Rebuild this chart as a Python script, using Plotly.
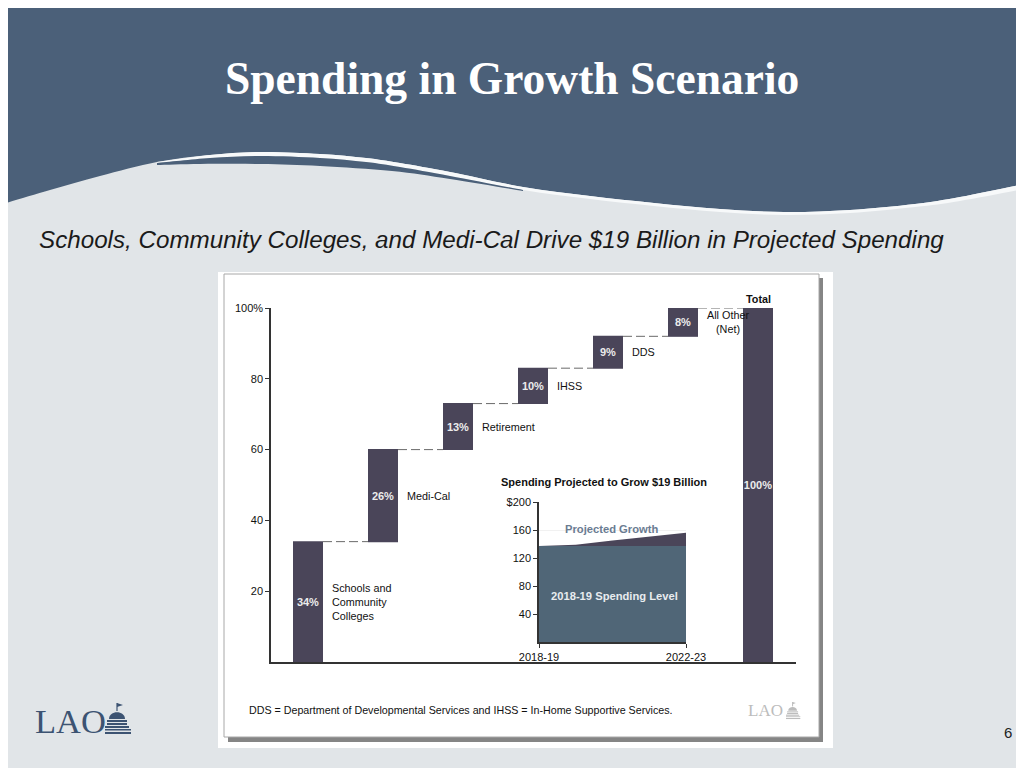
import plotly.graph_objects as go

W, H = 1024, 768
OX, OY = 8, 8  # page offset of the figure inside the browser window

# ---------------- data ----------------
categories = ["Schools and Community Colleges", "Medi-Cal", "Retirement", "IHSS", "DDS",
              "All Other (Net)", "Total"]
shares = [34, 26, 13, 10, 9, 8, 100]
measures = ["relative"] * 6 + ["total"]
share_labels = ["34%", "26%", "13%", "10%", "9%", "8%", "100%"]
category_labels = ["Schools and<br>Community<br>Colleges", "Medi-Cal", "Retirement", "IHSS", "DDS",
                   "All Other<br>(Net)"]
y_tickvals = [20, 40, 60, 80, 100]
y_ticktext = ["20", "40", "60", "80", "100%"]

years = ["2018-19", "2019-20", "2020-21", "2021-22", "2022-23"]
total_spending = [137, 139, 145, 150, 156]
base_level = [total_spending[0]] * len(years)
inset_tickvals = [40, 80, 120, 160, 200]
inset_ticktext = ["40", "80", "120", "160", "$200"]

BAR = "#4a4559"
BLUE = "#4b6079"
SLATE = "#506677"
BG = "#e1e5e8"
FONT = "Liberation Sans"


def fx(x):
    return (x - OX) / W


def fy(y):
    return 1 - (y - OY) / H


def px(x, y):
    return fx(x), fy(y)


def pp(x, y):
    a, b = px(x, y)
    return f"{a:.5f},{b:.5f}"


def spline(pts, cmd="M"):
    s = f"{cmd} {pp(*pts[0])}"
    n = len(pts)
    for i in range(n - 1):
        p0 = pts[i - 1] if i > 0 else pts[i]
        p1 = pts[i]
        p2 = pts[i + 1]
        p3 = pts[i + 2] if i + 2 < n else pts[i + 1]
        c1 = (p1[0] + (p2[0] - p0[0]) / 6, p1[1] + (p2[1] - p0[1]) / 6)
        c2 = (p2[0] - (p3[0] - p1[0]) / 6, p2[1] - (p3[1] - p1[1]) / 6)
        s += f" C {pp(*c1)} {pp(*c2)} {pp(*p2)}"
    return s


shapes = []

# full background (covers whole figure)
shapes.append(dict(type="rect", xref="paper", yref="paper", x0=-0.05, y0=-0.05, x1=1.05, y1=1.05,
                   fillcolor=BG, line=dict(width=0), layer="below"))

# header
white_top = [(1040, 180), (1024, 184), (960, 197), (915, 204), (850, 210), (784, 212), (720, 209),
             (654, 203), (590, 196), (523, 187), (450, 172), (400, 163), (366, 158), (320, 154),
             (261, 152), (210, 155), (157, 162)]
blue_path = f"M {pp(-10,-10)} L {pp(1040,-10)} " + spline(
    white_top + [(100, 176), (50, 190), (0, 205), (-10, 209)], "L") + " Z"
shapes.append(dict(type="path", xref="paper", yref="paper", path=blue_path,
                   fillcolor=BLUE, line=dict(width=0), layer="below"))
white_bottom = [(157, 163), (210, 158), (261, 156), (320, 158), (366, 162), (400, 167), (450, 176),
                (523, 190), (590, 199), (654, 206), (720, 212), (784, 215), (850, 213), (915, 207),
                (960, 201), (1024, 189), (1040, 185)]
band = spline(white_top[::-1][:-1][::-1][0:0] + white_top, "M") + " " + spline(white_bottom, "L") + " Z"
shapes.append(dict(type="path", xref="paper", yref="paper", path=band,
                   fillcolor="#f7f9fa", line=dict(width=0), layer="below"))
sliver_top = [(157, 163), (210, 158), (261, 156), (320, 158), (366, 162), (400, 167), (450, 176), (523, 190)]
sliver_bot = [(523, 191), (450, 179), (392, 171), (320, 166), (261, 164), (200, 164), (157, 165)]
sliver = spline(sliver_top, "M") + " " + spline(sliver_bot, "L") + " Z"
shapes.append(dict(type="path", xref="paper", yref="paper", path=sliver,
                   fillcolor=BLUE, line=dict(width=0), layer="below"))


def rect(x0, y0, x1, y1, fill, line=None, lw=0):
    a0, b0 = px(x0, y1)
    a1, b1 = px(x1, y0)
    shapes.append(dict(type="rect", xref="paper", yref="paper", x0=a0, y0=b0, x1=a1, y1=b1,
                       fillcolor=fill, line=dict(width=lw, color=line or fill), layer="below"))


# chart panel
rect(218, 272, 833, 748, "white")
rect(228, 278, 823, 742, "#858585")
rect(224, 274, 819, 737, "white", "#a8a8a8", 1)


def icon(x0, y0, s, color):
    def P(x, y):
        return pp(x0 + x * s, y0 + y * s)
    a, b = px(x0 + 12 * s, y0)
    c, d = px(x0 + 12 * s, y0 + 8 * s)
    shapes.append(dict(type="line", xref="paper", yref="paper", x0=a, y0=b, x1=c, y1=d,
                       line=dict(color=color, width=max(1, 1.2 * s)), layer="below"))
    shapes.append(dict(type="path", xref="paper", yref="paper",
                       path=f"M {P(12,0)} L {P(18,2)} L {P(12,4)} Z",
                       fillcolor=color, line=dict(width=0), layer="below"))
    shapes.append(dict(type="path", xref="paper", yref="paper",
                       path=f"M {P(4,16)} C {P(4,7)} {P(20,7)} {P(20,16)} Z",
                       fillcolor=color, line=dict(width=0), layer="below"))
    for (ya, yb, xa, xb) in [(17, 19, 2, 22), (20, 22, 2, 22), (23, 25, 0, 24), (26, 27.5, 0, 26),
                             (29, 31, 0, 26)]:
        rect(x0 + xa * s, y0 + ya * s, x0 + xb * s, y0 + yb * s, color)


icon(105, 703, 1.0, "#3c5372")
icon(786, 702, 0.55, "#bcbcbc")

annotations = []


def text(x, y, t, size, color="#1a1a1a", family=FONT, xanchor="center", yanchor="middle", align="center"):
    a, b = px(x, y)
    annotations.append(dict(xref="paper", yref="paper", x=a, y=b, text=t, showarrow=False,
                            font=dict(size=size, color=color, family=family),
                            xanchor=xanchor, yanchor=yanchor, align=align))


text(512, 78, "<b>Spending in Growth Scenario</b>", 45.5, "white", "Liberation Serif")
text(37, 240, "<i>Schools, Community Colleges, and Medi-Cal Drive $19 Billion in Projected Spending</i>",
     24.2, "#1a1a1a", FONT, xanchor="left")
text(1008, 732, "6", 15, "#222")
text(33, 721, "LAO", 34.5, "#3c5372", "Liberation Serif", xanchor="left")
text(746, 710, "LAO", 17, "#bcbcbc", "Liberation Serif", xanchor="left")
text(247, 710, "DDS = Department of Developmental Services and IHSS = In-Home Supportive Services.",
     10.7, "#111", FONT, xanchor="left")
text(604, 482, "<b>Spending Projected to Grow $19 Billion</b>", 11, "#111")
text(611, 529, "<b>Projected Growth</b>", 11.2, "#6a7c92")
text(614, 596, "<b>2018-19 Spending Level</b>", 11.2, "#e8ecef")

LBL = 10.8
# category labels on the main chart (data coordinates)
cum = 0
for i, (v, lab) in enumerate(zip(shares[:6], category_labels)):
    mid = cum + v / 2
    cum += v
    annotations.append(dict(xref="x", yref="y", x=i + 0.29, y=mid, text=lab, showarrow=False,
                            font=dict(size=LBL, color="#111", family=FONT),
                            xanchor="left", yanchor="middle", align="center" if i == 5 else "left"))
annotations.append(dict(xref="x", yref="y", x=6, y=cum, text="<b>Total</b>", showarrow=False,
                        font=dict(size=LBL, color="#111", family=FONT), xanchor="center", yanchor="bottom",
                        yshift=1))

fig = go.Figure()
fig.add_trace(go.Waterfall(
    x=categories, y=shares, measure=measures, width=[0.4] * 7,
    text=[f"<b>{s}</b>" for s in share_labels], textposition="inside", insidetextanchor="middle",
    textangle=0, constraintext="none", textfont=dict(color="#ececec", size=11, family=FONT),
    increasing=dict(marker=dict(color=BAR)), totals=dict(marker=dict(color=BAR)),
    decreasing=dict(marker=dict(color=BAR)),
    connector=dict(line=dict(color="#6a6a6a", width=1, dash="9px,4px")),
    xaxis="x", yaxis="y", hoverinfo="skip", cliponaxis=False))

fig.add_trace(go.Scatter(x=years, y=base_level, mode="lines", line=dict(width=0),
                         fill="tozeroy", fillcolor=SLATE, xaxis="x2", yaxis="y2", hoverinfo="skip"))
fig.add_trace(go.Scatter(x=years, y=total_spending, mode="lines", line=dict(width=0),
                         fill="tonexty", fillcolor=BAR, xaxis="x2", yaxis="y2", hoverinfo="skip"))

x_left, x_right = 271, 796
c0, step = 308, 75
fig.update_layout(
    template="none",
    width=W, height=H, autosize=False, margin=dict(l=0, r=0, t=0, b=0, pad=0, autoexpand=False),
    paper_bgcolor=BG, plot_bgcolor="rgba(0,0,0,0)", showlegend=False,
    shapes=shapes, annotations=annotations,
    xaxis=dict(domain=[fx(x_left), fx(x_right)], range=[(x_left - c0) / step, (x_right - c0) / step],
               automargin=False, showticklabels=False, ticks="", showgrid=False, zeroline=False,
               showline=True, linecolor="#333", linewidth=2),
    yaxis=dict(domain=[fy(662), fy(308)], range=[0, 100], showgrid=False, zeroline=False,
               automargin=False, showline=True, linecolor="#333", linewidth=1.5, ticks="outside", ticklen=4,
               tickcolor="#333", tickvals=y_tickvals, ticktext=y_ticktext,
               tickfont=dict(size=11, color="#111", family=FONT)),
    xaxis2=dict(domain=[fx(539), fx(686)], range=[0, 4], anchor="y2", showgrid=False, zeroline=False,
                automargin=False, showline=True, linecolor="#333", linewidth=2, ticks="outside", ticklen=4,
                tickcolor="#333", tickvals=[years[0], years[-1]], ticktext=[years[0], years[-1]],
                tickfont=dict(size=11, color="#111", family=FONT)),
    yaxis2=dict(domain=[fy(642), fy(502)], range=[0, 200], anchor="x2",
                automargin=False, showgrid=True, gridcolor="#f1f1f1", zeroline=False,
                showline=True, linecolor="#333", linewidth=1.5, ticks="outside", ticklen=4,
                tickcolor="#333", tickvals=inset_tickvals, ticktext=inset_ticktext,
                tickfont=dict(size=11, color="#111", family=FONT)),
)

fig.write_html("out.html")
